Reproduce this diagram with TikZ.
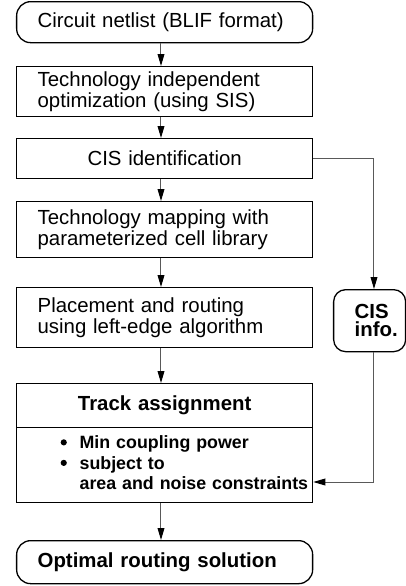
\documentclass[tikz,border=0pt]{standalone}
\usepackage{fontspec}
\setmainfont{Liberation Sans}
\usetikzlibrary{arrows.meta}

\newcommand{\listdot}{\tikz[baseline=-3.2pt]\fill (0,0) circle (1.55pt);}

\begin{document}
\begin{tikzpicture}[x=0.5pt,y=-0.5pt,
        stage/.style={draw,line width=0.65pt,anchor=north west,minimum width=148pt,
            inner xsep=10.5pt,inner ysep=0pt,text width=127pt,align=left,
            font=\fontsize{10.2}{8.2}\selectfont},
        terminal/.style={stage,rounded corners=7pt},
        flow/.style={draw=black!65,line width=0.5pt,
            -{Triangle[length=6pt,width=3.4pt,color=black]}}]
        \useasboundingbox (0,0) rectangle (406,586);
        \coordinate (axis) at (161,0);
        \coordinate (rail) at (374,0);

        \node[terminal,minimum height=20.5pt] (netlist) at (16,1) {Circuit netlist (BLIF format)};
        \node[stage,minimum height=25pt] (optim) at (16,66) {Technology independent\\optimization (using SIS)};
        \node[stage,minimum height=20pt,align=center] (cisid) at (16,138) {CIS identification};
        \node[stage,minimum height=28pt] (techmap) at (16,201) {Technology mapping with\\parameterized cell library};
        \node[stage,minimum height=30pt] (place) at (16,287) {Placement and routing\\using left-edge algorithm};
        \node[stage,minimum height=22pt,align=center,
            font=\fontsize{10.2}{8.2}\selectfont\bfseries] (track) at (16,383) {Track assignment};
        \node[stage,minimum height=37.5pt,inner xsep=22pt,text width=104pt,
            font=\fontsize{8.9}{10.25}\selectfont\bfseries] (constr) at (16,427)
            {\begin{tabular}{@{}p{9.5pt}@{}l@{}}
                \listdot & Min coupling power\\
                \listdot & subject to\\
                & area and noise constraints
            \end{tabular}};
        \node[terminal,minimum height=21.5pt,
            font=\fontsize{10.2}{8.2}\selectfont\bfseries] (solution) at (16,540) {Optimal routing solution};
        \node[stage,rounded corners=6pt,minimum width=36pt,minimum height=31pt,text width=15pt,
            font=\fontsize{10.2}{9}\selectfont\bfseries] (cisinfo) at (333,289) {CIS\\info.};
        \coordinate (entry) at (constr.east |- 0,482);

        \draw[flow] (netlist.south -| axis) -- (optim.north -| axis);
        \draw[flow] (optim.south -| axis) -- (cisid.north -| axis);
        \draw[flow] (cisid.south -| axis) -- (techmap.north -| axis);
        \draw[flow] (techmap.south -| axis) -- (place.north -| axis);
        \draw[flow] (place.south -| axis) -- (track.north -| axis);
        \draw[flow] (constr.south -| axis) -- (solution.north -| axis);
        \draw[flow] (cisid.east) -- (cisid.east -| rail) -- (cisinfo.north -| rail);
        \draw[flow] (cisinfo.south -| rail) -- (rail |- entry) -- (entry);
    \end{tikzpicture}
\end{document}
